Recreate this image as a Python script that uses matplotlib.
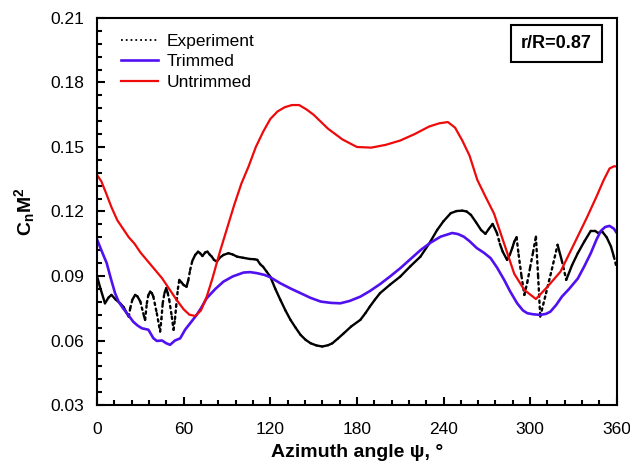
import numpy as np
import matplotlib.pyplot as plt
from matplotlib.collections import LineCollection
from matplotlib.ticker import MultipleLocator

plt.rcParams['font.family'] = ['Liberation Sans', 'DejaVu Sans']
plt.rcParams['mathtext.fontset'] = 'custom'
plt.rcParams['mathtext.rm'] = 'Liberation Sans'
plt.rcParams['mathtext.bf'] = 'Liberation Sans:bold'

# measured normal force coefficient (black)
exp_psi = [0, 2, 5.5, 8, 10, 13, 16, 18.5, 20.6, 22, 23, 24.5, 26.4, 28, 30, 32, 33.3,
           34.5, 35.5, 36.8, 38, 39, 41.4, 43.7, 44.6, 45.5, 46.7, 47.9, 49, 50, 51.8,
           53, 54, 54.8, 56, 57, 58.5, 60, 62, 63.2, 64.5, 66, 68, 70, 71.5, 73, 75,
           76.5, 78, 79.5, 81, 83, 85, 87.6, 91, 94, 97, 101, 106, 109, 111, 113, 115,
           117.5, 120, 123.5, 127, 130.5, 134, 137.5, 141, 144.5, 148, 152, 156, 160,
           163, 167, 171, 176, 182.4, 186, 189, 192.5, 196, 203, 210, 217, 224, 230,
           235.6, 240, 245, 249, 253, 256, 259, 262.5, 266, 269, 271.5, 274, 277, 279,
           281, 284, 286, 287.6, 289, 290.6, 292, 294, 296, 298, 300, 302, 304, 305.5,
           307, 311, 315, 319, 322, 325, 329, 333, 337.5, 342, 345, 347, 350, 353, 356,
           358, 360]
exp_cn = [0.090, 0.085, 0.0773, 0.080, 0.0812, 0.079, 0.0773, 0.0755, 0.0727, 0.0711,
          0.075, 0.079, 0.0812, 0.0805, 0.0781, 0.0727, 0.0696, 0.0773, 0.081, 0.0827,
          0.082, 0.0804, 0.0727, 0.0642, 0.070, 0.0773, 0.082, 0.0843, 0.082, 0.0789,
          0.0711, 0.065, 0.070, 0.0758, 0.084, 0.0882, 0.087, 0.0858, 0.085, 0.088,
          0.0928, 0.097, 0.0998, 0.1013, 0.1005, 0.0993, 0.101, 0.1013, 0.100, 0.099,
          0.0975, 0.0967, 0.0985, 0.0998, 0.1006, 0.100, 0.099, 0.0985, 0.0979, 0.0978,
          0.0975, 0.0955, 0.0943, 0.092, 0.0897, 0.084, 0.0789, 0.074, 0.0696, 0.066,
          0.0626, 0.0603, 0.0587, 0.0577, 0.0572, 0.0578, 0.0587, 0.061, 0.0634, 0.0665,
          0.0696, 0.0728, 0.0758, 0.079, 0.082, 0.086, 0.0897, 0.0945, 0.099, 0.105,
          0.1114, 0.1155, 0.1192, 0.1202, 0.1204, 0.120, 0.1184, 0.115, 0.1114, 0.1096,
          0.112, 0.1142, 0.110, 0.105, 0.1013, 0.0975, 0.100, 0.103, 0.106, 0.108,
          0.100, 0.090, 0.0812, 0.087, 0.094, 0.101, 0.1083, 0.090, 0.0711, 0.082,
          0.093, 0.1045, 0.097, 0.0882, 0.095, 0.1006, 0.106, 0.111, 0.111, 0.110,
          0.1106, 0.108, 0.1037, 0.099, 0.0936]

# trimmed rotor prediction (blue)
trim_psi = [0, 3, 6.7, 9.5, 12.5, 15, 18, 21.5, 25, 28, 31, 35.6, 39, 41.4, 45, 48,
            50.6, 54, 57.6, 61, 64.5, 69, 72, 76, 82, 87.6, 94, 101.5, 106, 111, 116,
            120, 127, 134, 141, 148, 155, 162, 168.5, 175, 182.4, 189, 196, 203, 210,
            217, 224, 231, 238, 246, 250, 254, 258, 263, 268, 272.6, 277, 282, 286, 291,
            295, 298, 302, 307, 311, 314, 318, 322, 327, 333, 337.5, 342, 346, 349, 352,
            355, 358, 360]
trim_cn = [0.107, 0.102, 0.096, 0.089, 0.082, 0.078, 0.075, 0.072, 0.0688, 0.067,
           0.0657, 0.065, 0.0611, 0.0598, 0.060, 0.0587, 0.058, 0.060, 0.061, 0.065,
           0.068, 0.0719, 0.075, 0.0797, 0.084, 0.0874, 0.0898, 0.0916, 0.0918, 0.0913,
           0.0905, 0.0894, 0.0866, 0.0842, 0.082, 0.0798, 0.0781, 0.0775, 0.0773, 0.0784,
           0.0804, 0.083, 0.0862, 0.0898, 0.0936, 0.0978, 0.102, 0.1055, 0.1083, 0.110,
           0.1095, 0.1083, 0.1062, 0.103, 0.1008, 0.0983, 0.094, 0.0882, 0.083, 0.0773,
           0.074, 0.0727, 0.0722, 0.0719, 0.0724, 0.0734, 0.0765, 0.0804, 0.084, 0.0888,
           0.0945, 0.1006, 0.107, 0.111, 0.1128, 0.1133, 0.112, 0.110]

# untrimmed rotor prediction (red)
untrim_psi = [0, 3, 6, 10, 14, 18, 22, 26, 30, 35, 40, 45, 50, 55, 60, 64, 68, 72, 76,
              80, 85, 90, 95, 100, 105, 110, 115, 120, 125, 130, 135, 140, 145, 150, 160,
              170, 180, 190, 200, 210, 220, 230, 237, 243, 248, 253, 258, 263.4, 269, 275,
              282, 289, 296, 304, 312, 321, 330.5, 339.6, 346, 351, 355, 358, 360]
untrim_cn = [0.137, 0.134, 0.129, 0.122, 0.116, 0.112, 0.108, 0.105, 0.101, 0.097, 0.093,
             0.089, 0.084, 0.079, 0.0745, 0.072, 0.0714, 0.074, 0.0804, 0.089, 0.101, 0.112,
             0.123, 0.133, 0.141, 0.150, 0.157, 0.163, 0.1665, 0.1685, 0.1695, 0.1695,
             0.1675, 0.165, 0.1585, 0.1535, 0.150, 0.1497, 0.151, 0.153, 0.156, 0.1595,
             0.161, 0.1616, 0.159, 0.153, 0.146, 0.1347, 0.127, 0.119, 0.105, 0.091, 0.0835,
             0.0793, 0.085, 0.092, 0.105, 0.1176, 0.127, 0.1347, 0.140, 0.141, 0.141]

blue = '#5010f0'
red = '#ee0a0a'

fig = plt.figure(figsize=(6.3, 4.68), dpi=100)
ax = fig.add_axes([0.154, 0.1346, 0.825, 0.827])

# experiment: steep stretches come out dotted, flat ones solid
x = np.array(exp_psi)
y = np.array(exp_cn)
segs = np.stack([np.column_stack([x[:-1], y[:-1]]), np.column_stack([x[1:], y[1:]])], axis=1)
slope = np.abs(np.diff(y) / np.diff(x))
styles = [(0, (1, 1.6)) if s > 0.0025 else 'solid' for s in slope]
lc = LineCollection(segs, colors='black', linewidths=1.7, linestyles=styles, capstyle='round')
ax.add_collection(lc)

ax.plot(trim_psi, trim_cn, color=blue, lw=1.9)
ax.plot(untrim_psi, untrim_cn, color=red, lw=1.6)

# legend handles
ax.plot([], [], color='black', lw=1.3, ls=':', label='Experiment')
ax.plot([], [], color=blue, lw=1.9, label='Trimmed')
ax.plot([], [], color=red, lw=1.6, label='Untrimmed')
ax.legend(loc='upper left', frameon=False, fontsize=12.5, handlelength=2.1,
          handletextpad=0.5, labelspacing=0.3, borderaxespad=0.0,
          bbox_to_anchor=(0.033, 0.977))

ax.text(0.884, 0.933, 'r/R=0.87', transform=ax.transAxes, ha='center', va='center',
        fontsize=13, fontweight='bold',
        bbox=dict(boxstyle='square,pad=0.55', fc='white', ec='black', lw=1.5))

ax.set_xlim(0, 360)
ax.set_ylim(0.03, 0.21)
ax.xaxis.set_major_locator(MultipleLocator(60))
ax.xaxis.set_minor_locator(MultipleLocator(12))
ax.yaxis.set_major_locator(MultipleLocator(0.03))
ax.yaxis.set_minor_locator(MultipleLocator(0.006))
ax.set_yticklabels([f'{v:.2f}' for v in ax.get_yticks()])
ax.tick_params(which='both', direction='in', labelsize=12.5, width=1.5)
ax.tick_params(which='major', length=6)
ax.tick_params(axis='x', which='major', pad=12)
ax.tick_params(axis='y', which='major', pad=9)
ax.tick_params(which='minor', length=3.5)
for sp in ax.spines.values():
    sp.set_linewidth(1.5)

ax.set_xlabel('Azimuth angle ψ, °', fontsize=14, fontweight='bold', labelpad=5)
ax.set_ylabel(r'$\mathbf{C_nM^2}$', fontsize=14, labelpad=10)

fig.savefig('out.png', dpi=100)
